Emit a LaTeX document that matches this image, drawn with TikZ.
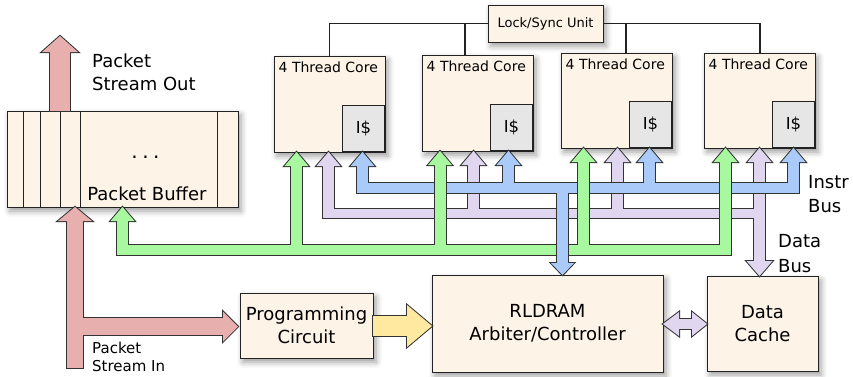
\documentclass[tikz,border=0pt]{standalone}
\usepackage{fontspec}
\setmainfont{DejaVu Sans}
\usetikzlibrary{calc,shadows.blur}

\definecolor{boxfill}{HTML}{FDF3E7}
\definecolor{cachefill}{HTML}{E6E6E6}
\definecolor{edge}{HTML}{222222}
\definecolor{ol}{HTML}{333333}
\definecolor{pinkbus}{HTML}{E8AFAF}
\definecolor{greenbus}{HTML}{A8F8A0}
\definecolor{lavbus}{HTML}{E0D6F0}
\definecolor{bluebus}{HTML}{AACAFA}
\definecolor{yellowbus}{HTML}{FFE9A0}

% fat-arrow pieces: style, centre, from, to, half width
\newcommand\busV[5]{\path[#1] ({#2-#5},#3) rectangle ({#2+#5},#4);}
\newcommand\busH[5]{\path[#1] (#3,{#2-#5}) rectangle (#4,{#2+#5});}
% arrow heads: style, centre, tip, base, half width
\newcommand\headV[5]{\path[#1] ({#2-#5},#4) -- (#2,#3) -- ({#2+#5},#4) -- cycle;}
\newcommand\headH[5]{\path[#1] (#4,{#2-#5}) -- (#3,#2) -- (#4,{#2+#5}) -- cycle;}

% each bus is drawn twice: once as a dark outline, once as the fill
\newcommand\pinkparts[1]{%
  \busV{#1}{60}{50}{111}{10}\headV{#1}{60}{36}{52}{18}%
  \busV{#1}{75}{219}{368}{8}\headV{#1}{75}{207}{221}{17}%
  \busH{#1}{326.5}{67}{225}{8.5}\headH{#1}{326.5}{238}{223}{15}}
\newcommand\yellowparts[1]{%
  \busH{#1}{326}{373}{409}{10}\headH{#1}{326}{432}{407}{21}}
\newcommand\cacheparts[1]{%
  \busH{#1}{324}{677}{694}{5}\headH{#1}{324}{663}{679}{12}\headH{#1}{324}{707}{692}{12}}
\newcommand\lavparts[1]{%
  \path[#1] (323,209) rectangle (765,218);
  \busV{#1}{328.5}{164}{218}{5.5}\headV{#1}{328.5}{152}{166}{12}%
  \busV{#1}{473.5}{163}{218}{5.5}\headV{#1}{473.5}{151}{165}{12}%
  \busV{#1}{617.5}{160}{218}{5.5}\headV{#1}{617.5}{148}{162}{12}%
  \busV{#1}{759.5}{160}{263}{5.5}\headV{#1}{759.5}{148}{162}{12}%
  \headV{#1}{759.5}{276}{261}{13}}
\newcommand\blueparts[1]{%
  \path[#1] (357,183) rectangle (799,193);
  \busV{#1}{362.5}{164}{193}{5.5}\headV{#1}{362.5}{152}{166}{12}%
  \busV{#1}{508.5}{163}{193}{5.5}\headV{#1}{508.5}{151}{165}{12}%
  \busV{#1}{649.5}{160}{193}{5.5}\headV{#1}{649.5}{148}{162}{12}%
  \busV{#1}{793.5}{160}{193}{5.5}\headV{#1}{793.5}{148}{162}{12}}
% the drop to the RLDRAM controller crosses over the other buses
\newcommand\bluedrop[2]{%
  \busV{#1}{562.5}{#2}{265}{5.5}\headV{#1}{562.5}{275}{263}{11.5}}
\newcommand\greenparts[1]{%
  \path[#1] (117,245) rectangle (731,255);
  \busV{#1}{122.5}{219}{255}{5.5}\headV{#1}{122.5}{207}{221}{12}%
  \busV{#1}{296.5}{164}{255}{5.5}\headV{#1}{296.5}{152}{166}{12}%
  \busV{#1}{440}{163}{255}{5.5}\headV{#1}{440}{151}{165}{12}%
  \busV{#1}{583.5}{160}{255}{5.5}\headV{#1}{583.5}{148}{162}{12}%
  \busV{#1}{725.5}{160}{255}{5.5}\headV{#1}{725.5}{148}{162}{12}}

\tikzset{
  block/.style={draw=edge, line width=1pt, fill=boxfill, anchor=north west,
    inner sep=0pt, outer sep=0pt, align=center,
    font=\fontsize{18}{22.5}\selectfont,
    blur shadow={shadow xshift=3pt, shadow yshift=-4pt,
      shadow blur radius=6pt, shadow opacity=40}},
  icache/.style={draw=edge, line width=1pt, fill=cachefill, anchor=south east,
    inner sep=0pt, minimum width=42pt, minimum height=46pt,
    font=\fontsize{16.5}{18}\selectfont},
  corelabel/.style={anchor=base west, inner sep=0pt, font=\fontsize{14}{16}\selectfont},
  biglabel/.style={anchor=base west, inner sep=0pt, font=\fontsize{18}{22}\selectfont},
  smalllabel/.style={anchor=base west, inner sep=0pt, font=\fontsize{15}{18}\selectfont},
  syncline/.style={draw=edge, line width=1.1pt},
  outline/.style={draw=ol, line width=2pt, line join=miter},
}

\begin{document}
\begin{tikzpicture}[x=1pt,y=-1pt]
\useasboundingbox (0,0) rectangle (853,376);

% packet buffer with its slots
\node[block, minimum width=231pt, minimum height=96pt] (buf) at (7,111) {};
\foreach \x in {23,40,60,80,217}
  \draw[edge, line width=1pt] ($(buf.north west)+(\x-7,0)$) -- ($(buf.south west)+(\x-7,0)$);
\node[anchor=base, inner sep=0pt, font=\fontsize{20}{22}\selectfont] (dots) at (145.5,158.5)
  {.\hspace{4.5pt}.\hspace{4.5pt}.};
\node[biglabel, anchor=base] (buflabel) at (147,200.5) {Packet Buffer};

% lock / sync unit
\node[block, minimum width=115pt, minimum height=37pt, font=\fontsize{13}{15}\selectfont]
  (lock) at (488,5) {Lock/Sync Unit};

% four cores with instruction caches
\node[block, minimum width=111pt, minimum height=96pt] (c1) at (274,56) {};
\node[block, minimum width=111pt, minimum height=96pt] (c2) at (422,55) {};
\node[block, minimum width=111pt, minimum height=95pt] (c3) at (561,53) {};
\node[block, minimum width=111pt, minimum height=95pt] (c4) at (704,53) {};
\foreach \c in {c1,c2,c3,c4}{
  \node[icache] (\c i) at (\c.south east) {I\$};
  \node[corelabel] (\c t) at ($(\c.north west)+(4.5,16.8)$) {4 Thread Core};
}

% lower blocks
\node[block, minimum width=133pt, minimum height=65pt] (prog) at (240,293) {Programming\\Circuit};
\node[block, minimum width=231pt, minimum height=97pt] (ram) at (432,275) {RLDRAM\\Arbiter/Controller};
\node[block, minimum width=111pt, minimum height=95pt] (dcache) at (707,276) {Data\\Cache};

% lock / sync wiring
\draw[syncline] (lock.west) -| (c1.north);
\draw[syncline] (465,0 |- lock.west) -- (465,0 |- c2.north);
\draw[syncline] (lock.east) -| (760,0 |- c4.north);
\draw[syncline] (626,0 |- lock.east) -- (626,0 |- c3.north);

% fat arrows and buses
\pinkparts{outline}\pinkparts{fill=pinkbus}
\yellowparts{outline}\yellowparts{fill=yellowbus}
\cacheparts{outline}\cacheparts{fill=lavbus}
\lavparts{outline}\lavparts{fill=lavbus}
\blueparts{outline}\blueparts{fill=bluebus}
\greenparts{outline}\greenparts{fill=greenbus}
\bluedrop{outline}{193.5}\bluedrop{fill=bluebus}{192}

% free labels
\node[biglabel] (out1) at (92,67) {Packet};
\node[biglabel] (out2) at (92,90) {Stream Out};
\node[smalllabel] (in1) at (92,353) {Packet};
\node[smalllabel] (in2) at (92,371) {Stream In};
\node[biglabel] (ib1) at (808,188) {Instr};
\node[biglabel] (ib2) at (808,212) {Bus};
\node[biglabel] (db1) at (778,247) {Data};
\node[biglabel] (db2) at (778,272) {Bus};
\end{tikzpicture}
\end{document}
